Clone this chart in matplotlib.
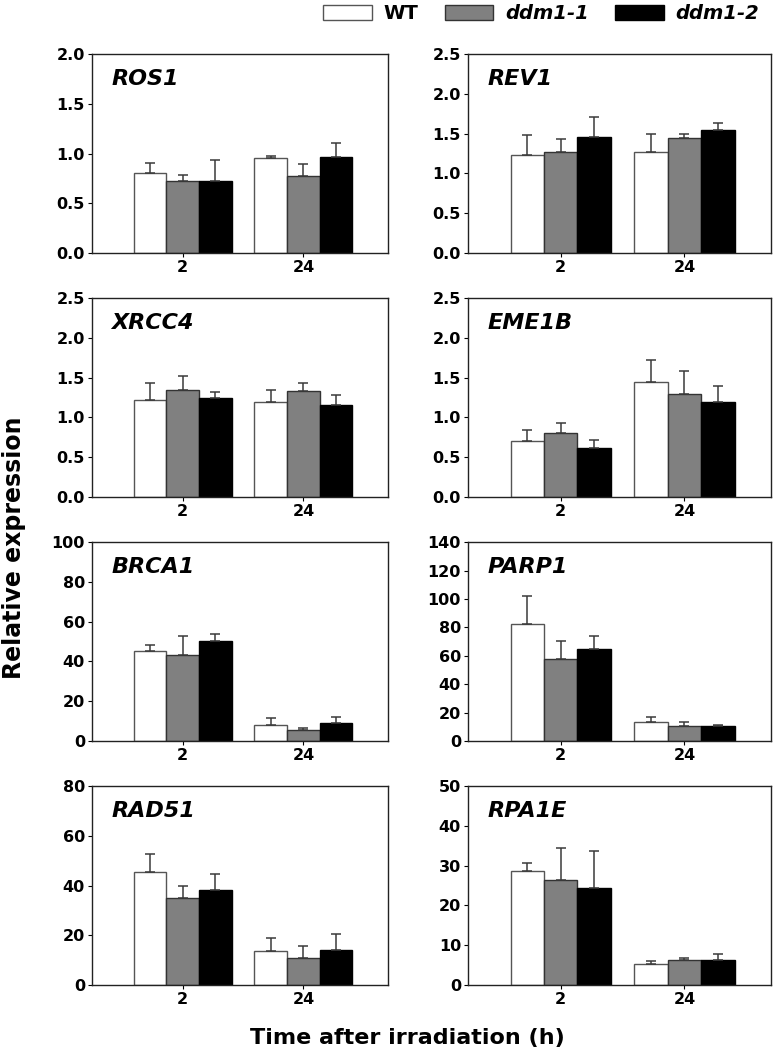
#!/usr/bin/env python3
# plot.py - relative expression of DNA repair genes, WT vs ddm1 mutants

import matplotlib
matplotlib.use("Agg")
import matplotlib.pyplot as plt
from matplotlib.patches import Patch
import numpy as np

plt.rcParams["font.family"] = ["DejaVu Sans"]
plt.rcParams["font.weight"] = "bold"

times = ["2", "24"]
genotypes = ["WT", "ddm1-1", "ddm1-2"]
genes = ["ROS1", "REV1", "XRCC4", "EME1B", "BRCA1", "PARP1", "RAD51", "RPA1E"]

# means per gene: [genotype][time]
ros1 = [[0.80, 0.96], [0.72, 0.77], [0.72, 0.97]]
ros1_err = [[0.11, 0.015], [0.06, 0.13], [0.22, 0.14]]
rev1 = [[1.23, 1.27], [1.27, 1.44], [1.46, 1.55]]
rev1_err = [[0.26, 0.23], [0.16, 0.06], [0.25, 0.08]]
xrcc4 = [[1.22, 1.19], [1.35, 1.33], [1.25, 1.16]]
xrcc4_err = [[0.21, 0.16], [0.17, 0.10], [0.07, 0.12]]
eme1b = [[0.70, 1.44], [0.80, 1.29], [0.61, 1.19]]
eme1b_err = [[0.14, 0.28], [0.13, 0.30], [0.11, 0.20]]
brca1 = [[45.5, 8.2], [43.2, 5.5], [50.4, 9.1]]
brca1_err = [[2.9, 3.4], [9.6, 0.9], [3.4, 2.8]]
parp1 = [[82.4, 13.6], [57.5, 10.8], [64.6, 10.8]]
parp1_err = [[20.0, 3.1], [12.7, 2.4], [9.6, 0.7]]
rad51 = [[45.5, 13.6], [34.9, 10.7], [38.1, 14.1]]
rad51_err = [[7.4, 5.3], [5.0, 5.1], [6.6, 6.3]]
rpa1e = [[28.6, 5.2], [26.4, 6.3], [24.3, 6.3]]
rpa1e_err = [[2.0, 0.9], [8.0, 0.5], [9.3, 1.5]]

means = [ros1, rev1, xrcc4, eme1b, brca1, parp1, rad51, rpa1e]
errors = [ros1_err, rev1_err, xrcc4_err, eme1b_err,
          brca1_err, parp1_err, rad51_err, rpa1e_err]
ylims = [2.0, 2.5, 2.5, 2.5, 100, 140, 80, 50]
ysteps = [0.5, 0.5, 0.5, 0.5, 20, 20, 20, 10]

face_colors = ["white", "#808080", "black"]
edge_colors = ["#555555", "#333333", "black"]


def plot_gene(ax, name, mean, err, ymax, step):
    x = np.arange(len(times))
    width = 0.27
    for i in range(len(genotypes)):
        pos = x + (i - 1) * width
        ax.bar(pos, mean[i], width, color=face_colors[i],
               edgecolor=edge_colors[i], linewidth=1.0, zorder=2)
        ax.errorbar(pos, mean[i], yerr=[np.zeros(len(times)), err[i]],
                    fmt="none", ecolor="#3a3a3a", elinewidth=1.1,
                    capsize=3.5, capthick=1.1, zorder=3)
    ax.set_xlim(-0.75, 1.7)
    ax.set_ylim(0, ymax)
    ticks = np.arange(0, ymax + step / 2, step)
    ax.set_yticks(ticks)
    if step < 1:
        ax.set_yticklabels([f"{t:.1f}" for t in ticks])
    else:
        ax.set_yticklabels([f"{t:.0f}" for t in ticks])
    ax.set_xticks(x)
    ax.set_xticklabels(times)
    ax.tick_params(axis="both", labelsize=11.5, length=3, width=0.8,
                   direction="out", pad=2)
    for s in ax.spines.values():
        s.set_linewidth(1.0)
        s.set_color("#222222")
    ax.text(0.065, 0.925, name, transform=ax.transAxes, fontsize=16,
            fontstyle="italic", fontweight="bold", va="top", ha="left")


def main():
    fig = plt.figure(figsize=(7.75, 10.52), dpi=100)
    lefts = [92 / 775, 468 / 775]
    widths = [296 / 775, 303 / 775]
    bottoms = [0.7595, 0.5276, 0.2956, 0.0637]
    height = 0.189

    for k, name in enumerate(genes):
        row, col = divmod(k, 2)
        ax = fig.add_axes([lefts[col], bottoms[row], widths[col], height])
        plot_gene(ax, name, means[k], errors[k], ylims[k], ysteps[k])

    handles = [Patch(facecolor=face_colors[i], edgecolor=edge_colors[i],
                     linewidth=1.0, label=genotypes[i]) for i in range(3)]
    leg = fig.legend(handles=handles, loc="upper right", ncol=3,
                     bbox_to_anchor=(759 / 775, 1 - 4 / 1052), frameon=False,
                     fontsize=14, handlelength=2.5, handleheight=0.8,
                     columnspacing=1.35, handletextpad=0.6, borderpad=0,
                     borderaxespad=0)
    for t in leg.get_texts():
        t.set_fontweight("bold")
        if t.get_text() != "WT":
            t.set_fontstyle("italic")

    fig.text(0.018, 0.479, "Relative expression", rotation=90, fontsize=17,
             fontweight="bold", ha="center", va="center")
    fig.text(0.526, 0.0076, "Time after irradiation (h)", fontsize=16,
             fontweight="bold", ha="center", va="baseline")

    fig.savefig("out.png", dpi=100)


if __name__ == "__main__":
    main()
